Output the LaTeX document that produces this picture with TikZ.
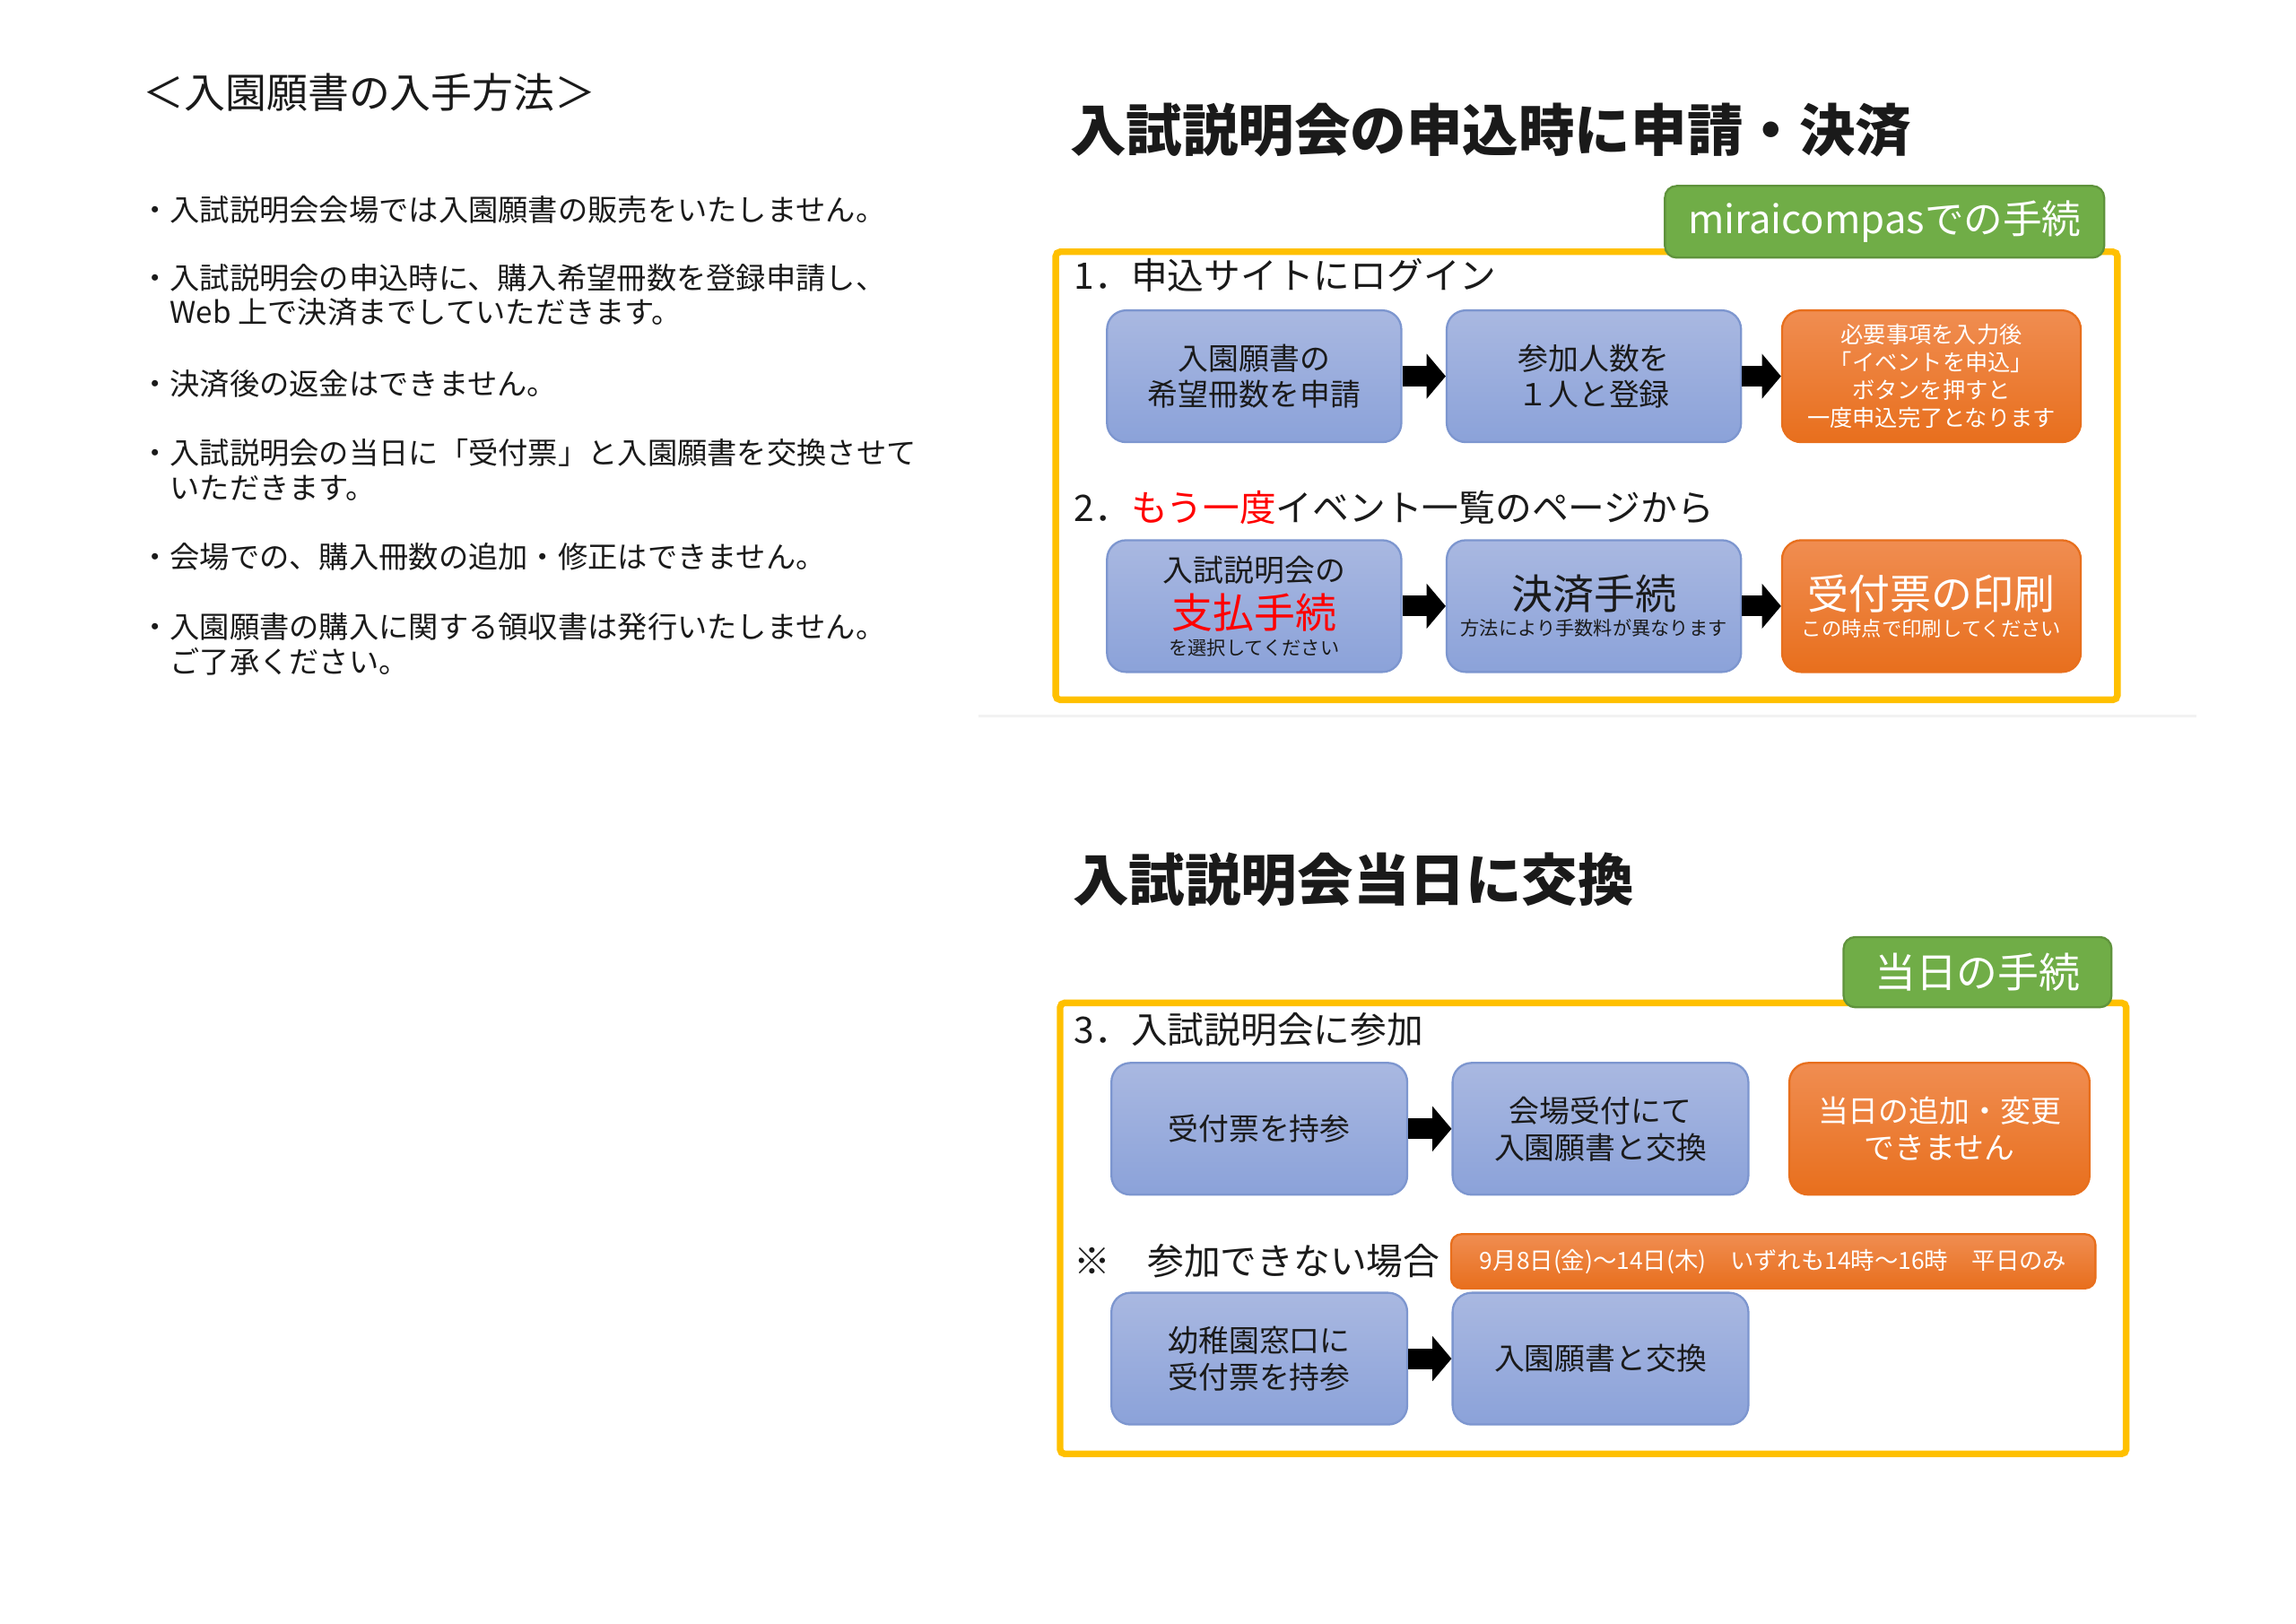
\documentclass[tikz,border=0pt]{standalone}
\usepackage{fontspec}
\setmainfont{Noto Sans CJK JP}
\usetikzlibrary{arrows.meta}

\definecolor{frameyel}{HTML}{FFC000}
\definecolor{tagbg}{HTML}{70AD47}
\definecolor{bluetop}{HTML}{A9B8E1}
\definecolor{bluebot}{HTML}{8BA2D9}
\definecolor{blueline}{HTML}{7D96CF}
\definecolor{orgtop}{HTML}{F08D51}
\definecolor{orgbot}{HTML}{E86F1D}
\definecolor{txt}{HTML}{1A1A1A}

\newcommand{\fsz}[2]{\fontsize{#1}{#2}\selectfont}

\begin{document}
\begin{tikzpicture}[
    bluestep/.style={draw=blueline, line width=0.4pt, rounded corners=0.13cm,
      top color=bluetop, bottom color=bluebot, minimum width=2.01cm,
      minimum height=0.90cm, align=center, text=txt, inner sep=0pt,
      font=\fsz{5.9}{7.1}},
    orangestep/.style={bluestep, draw=orgbot, top color=orgtop,
      bottom color=orgbot, text=white},
    greentag/.style={fill=tagbg, draw=tagbg!85!black, line width=0.4pt,
      rounded corners=0.08cm, text=white, inner sep=0pt, font=\fsz{8}{9}},
    yelframe/.style={draw=frameyel, line width=0.045cm, rounded corners=0.03cm},
    flow/.style={line width=0.14cm, -{Triangle[length=0.13cm, width=0.30cm]}},
    stepnum/.style={anchor=west, inner sep=0pt, text=txt, font=\fsz{7.1}{8.5}},
    headline/.style={anchor=west, inner sep=0pt, text=txt,
      font=\bfseries\fsz{10.9}{12}},
    note/.style={anchor=west, align=left, inner sep=0pt, text=txt,
      font=\fsz{5.8}{6.7}}]
  \useasboundingbox (0,0) rectangle (15.68,-11.09);

  % ── 入手方法 (left) ──────────────────────────────────────────────
  \node[note, font=\fsz{8}{9}] (howto) at (0.97,-0.63) {＜入園願書の入手方法＞};
  \node[note] (nosale)    at (0.95,-1.43) {・入試説明会会場では入園願書の販売をいたしません。};
  \node[note] (webpay)    at (0.95,-2.015)
    {・入試説明会の申込時に、購入希望冊数を登録申請し、\\\hspace*{1em}Web 上で決済までしていただきます。};
  \node[note] (norefund)  at (0.95,-2.62) {・決済後の返金はできません。};
  \node[note] (exchange)  at (0.95,-3.21)
    {・入試説明会の当日に「受付票」と入園願書を交換させて\\\hspace*{1em}いただきます。};
  \node[note] (noadd)     at (0.95,-3.80) {・会場での、購入冊数の追加・修正はできません。};
  \node[note] (noreceipt) at (0.95,-4.40)
    {・入園願書の購入に関する領収書は発行いたしません。\\\hspace*{1em}ご了承ください。};

  % ── 申込時に申請・決済 (upper right) ─────────────────────────────
  \node[headline] (ttlapply) at (7.30,-0.89) {入試説明会の申込時に申請・決済};
  \draw[yelframe] (7.21,-1.72) rectangle (14.46,-4.78);
  \node[greentag, minimum width=3.00cm, minimum height=0.49cm, font=\fsz{7.6}{9}] (site)
    at (12.87,-1.515) {miraicompasでの手続};

  \node[stepnum] (stepone) at (7.33,-1.88) {1．申込サイトにログイン};
  \node[bluestep] (apply) at (8.565,-2.57) {入園願書の\\希望冊数を申請};
  \node[bluestep] (count) at (10.885,-2.57) {参加人数を\\１人と登録};
  \node[orangestep, minimum width=2.04cm, font=\fsz{4.4}{5.4}] (done)
    at (13.19,-2.57) {必要事項を入力後\\「イベントを申込」\\ボタンを押すと\\一度申込完了となります};
  \draw[flow] (apply) -- (count);
  \draw[flow] (count) -- (done);

  \node[stepnum] (steptwo) at (7.33,-3.47)
    {2．{\color{red}もう一度}イベント一覧のページから};
  \node[bluestep] (pay) at (8.565,-4.14)
    {入試説明会の\\[0.8pt]{\color{red}\fsz{8}{8.5}支払手続}\\[-1.8pt]{\fsz{3.7}{4.5}を選択してください}};
  \node[bluestep] (settle) at (10.885,-4.14)
    {{\fsz{8}{9}決済手続}\\[-2pt]{\fsz{3.7}{4.5}方法により手数料が異なります}};
  \node[orangestep, minimum width=2.04cm] (print) at (13.19,-4.14)
    {{\fsz{8}{9}受付票の印刷}\\[-2pt]{\fsz{3.9}{4.5}この時点で印刷してください}};
  \draw[flow] (pay) -- (settle);
  \draw[flow] (settle) -- (print);

  \draw[black!5, line width=0.02cm] (6.68,-4.89) -- (15.00,-4.89);

  % ── 当日に交換 (lower right) ─────────────────────────────────────
  \node[headline] (ttlday) at (7.32,-6.01) {入試説明会当日に交換};
  \draw[yelframe] (7.24,-6.85) rectangle (14.52,-9.93);
  \node[greentag, minimum width=1.83cm, minimum height=0.48cm] (today)
    at (13.505,-6.64) {当日の手続};

  \node[stepnum] (stepthree) at (7.33,-7.03) {3．入試説明会に参加};
  \node[bluestep, minimum width=2.02cm] (bring) at (8.60,-7.71) {受付票を持参};
  \node[bluestep, minimum width=2.02cm] (swap) at (10.93,-7.71) {会場受付にて\\入園願書と交換};
  \node[orangestep, minimum width=2.05cm] (nochange) at (13.245,-7.71)
    {当日の追加・変更\\できません};
  \draw[flow] (bring) -- (swap);

  \node[stepnum] (absent) at (7.33,-8.61) {※　参加できない場合};
  \node[orangestep, minimum width=4.40cm, minimum height=0.37cm,
        rounded corners=0.07cm, font=\fsz{4.6}{5.5}] (hours) at (12.11,-8.615)
    {9月8日(金)～14日(木)　いずれも14時～16時　平日のみ};
  \node[bluestep, minimum width=2.02cm] (window) at (8.60,-9.28) {幼稚園窓口に\\受付票を持参};
  \node[bluestep, minimum width=2.02cm] (swaptwo) at (10.93,-9.28) {入園願書と交換};
  \draw[flow] (window) -- (swaptwo);
\end{tikzpicture}
\end{document}
